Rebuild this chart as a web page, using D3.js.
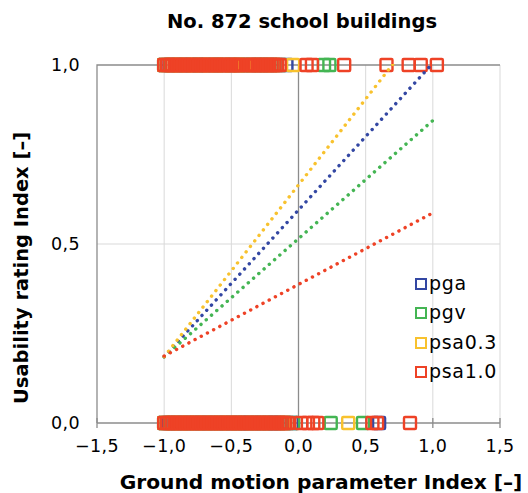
<!DOCTYPE html>
<html>
<head>
<meta charset="utf-8">
<script src="https://cdn.jsdelivr.net/npm/d3@7"></script>
<style>
  html, body { margin: 0; padding: 0; background: #fff; }
  svg { display: block; font-family: "DejaVu Sans", sans-serif; }
</style>
</head>
<body>
<svg id="chart" width="528" height="493"></svg>
<script>
// ---- data ----
const seriesNames = ["pga", "pgv", "psa0.3", "psa1.0"];
const seriesColors = ["#3347a3", "#44b553", "#f8c22e", "#ee4226"];

// x values of buildings with usability rating index = 1 (usable)
const pgaUsable = [-1.00,-0.96,-0.92,-0.87,-0.84,-0.80,-0.75,-0.72,-0.68,-0.63,-0.60,-0.56,-0.51,-0.48,-0.44,-0.40,-0.355,-0.31,-0.27,-0.22,-0.17,-0.09];
const pgvUsable = [-1.00,-0.95,-0.90,-0.85,-0.79,-0.75,-0.70,-0.64,-0.60,-0.55,-0.50,-0.44,-0.40,-0.35,-0.29,-0.25,-0.20,-0.135,0.19,0.23];
const psa03Usable = [-1.00,-0.94,-0.89,-0.83,-0.78,-0.72,-0.67,-0.61,-0.56,-0.50,-0.45,-0.40,-0.33,-0.25,-0.18,-0.04];
const psa10Usable = [-1.00,-0.98,-0.96,-0.94,-0.92,-0.90,-0.88,-0.86,-0.84,-0.82,-0.80,-0.78,-0.76,-0.74,-0.72,-0.70,-0.68,-0.66,-0.64,-0.62,-0.60,-0.58,-0.56,-0.54,-0.52,-0.50,-0.48,-0.46,-0.44,-0.42,-0.38,-0.36,-0.34,-0.32,-0.30,-0.28,-0.26,-0.24,-0.22,-0.20,-0.18,-0.16,-0.14,0.06,0.10,0.34,0.655,0.82,0.91,1.03];

// x values of buildings with usability rating index = 0 (not usable)
const pgaUnusable = [-1.00,-0.97,-0.93,-0.89,-0.85,-0.81,-0.77,-0.73,-0.69,-0.65,-0.61,-0.57,-0.53,-0.49,-0.45,-0.41,-0.37,-0.33,-0.29,-0.25,-0.21,-0.17,-0.13,-0.05,0.60];
const pgvUnusable = [-1.00,-0.95,-0.91,-0.86,-0.82,-0.77,-0.73,-0.68,-0.64,-0.59,-0.55,-0.50,-0.46,-0.41,-0.37,-0.32,-0.28,-0.23,-0.19,-0.14,-0.10,-0.04,0.24,0.48];
const psa03Unusable = [-1.00,-0.94,-0.88,-0.82,-0.76,-0.70,-0.64,-0.58,-0.52,-0.45,-0.35,-0.26,-0.11,0.37];
const psa10Unusable = [-1.00,-0.98,-0.96,-0.94,-0.92,-0.90,-0.88,-0.86,-0.84,-0.82,-0.80,-0.78,-0.76,-0.74,-0.72,-0.70,-0.68,-0.66,-0.64,-0.62,-0.60,-0.58,-0.56,-0.54,-0.52,-0.50,-0.48,-0.46,-0.44,-0.42,-0.40,-0.38,-0.36,-0.34,-0.32,-0.30,-0.28,-0.26,-0.24,-0.22,-0.20,-0.18,-0.16,-0.14,-0.12,-0.10,-0.08,0.02,0.07,0.11,0.14,0.55,0.585,0.83];

// linear trendlines (index = intercept + slope * x), drawn over x in [-1, 1]
const trendIntercepts = [0.595, 0.515, 0.665, 0.387];
const trendSlopes = [0.41, 0.33, 0.48, 0.20];
const trendRange = [-1.0, 1.0];

const xTicks = [-1.5, -1.0, -0.5, 0.0, 0.5, 1.0, 1.5];
const yTicks = [0.0, 0.5, 1.0];
const titleText = "No. 872 school buildings";
const xTitle = "Ground motion parameter Index [–]";
const yTitle = "Usability rating Index [–]";

// ---- chart ----
const usable = [pgaUsable, pgvUsable, psa03Usable, psa10Usable];
const unusable = [pgaUnusable, pgvUnusable, psa03Unusable, psa10Unusable];

const svg = d3.select("#chart");
const L = 97, R = 500, T = 65, B = 423;
const x = d3.scaleLinear().domain([-1.5, 1.5]).range([L, R]);
const y = d3.scaleLinear().domain([0, 1]).range([B, T]);
const fmt = v => d3.format(".1f")(v).replace(".", ",").replace("-", "–");

// gridlines
svg.append("g").selectAll("line").data(xTicks.filter(v => v !== 0 && v !== -1.5))
  .join("line")
  .attr("x1", d => x(d)).attr("x2", d => x(d))
  .attr("y1", T).attr("y2", B)
  .attr("stroke", "#d9d9d9").attr("stroke-width", 1);
svg.append("g").selectAll("line").data(yTicks.filter(v => v === 0.5))
  .join("line")
  .attr("x1", L).attr("x2", R)
  .attr("y1", d => y(d)).attr("y2", d => y(d))
  .attr("stroke", "#d9d9d9").attr("stroke-width", 1);

// frame: left & top
svg.append("path")
  .attr("d", `M${L},${B} L${L},${y(1)} L${R},${y(1)}`)
  .attr("fill", "none").attr("stroke", "#8c8c8c").attr("stroke-width", 1.3);

// vertical axis at x=0
svg.append("line")
  .attr("x1", x(0)).attr("x2", x(0)).attr("y1", T).attr("y2", B)
  .attr("stroke", "#8c8c8c").attr("stroke-width", 1.3);

// horizontal axis at y=0 with crossing ticks
const xAxisG = svg.append("g");
xAxisG.append("line").attr("x1", L).attr("x2", R).attr("y1", y(0)).attr("y2", y(0))
  .attr("stroke", "#8c8c8c").attr("stroke-width", 1.3);
xAxisG.selectAll("line.tick").data(xTicks).join("line").attr("class", "tick")
  .attr("x1", d => x(d)).attr("x2", d => x(d))
  .attr("y1", y(0) - 5).attr("y2", y(0) + 5)
  .attr("stroke", "#8c8c8c").attr("stroke-width", 1.3);

// tick labels
svg.append("g").selectAll("text").data(xTicks).join("text")
  .attr("x", d => x(d)).attr("y", 452)
  .attr("text-anchor", "middle")
  .attr("font-size", 17.5).attr("letter-spacing", 0.4).attr("fill", "#000")
  .text(fmt);
svg.append("g").selectAll("text").data(yTicks).join("text")
  .attr("x", 80).attr("y", d => y(d) + 6)
  .attr("text-anchor", "end")
  .attr("font-size", 17.5).attr("letter-spacing", 0.4).attr("fill", "#000")
  .text(fmt);

// markers
const ms = 12;
seriesNames.forEach((name, i) => {
  const g = svg.append("g").attr("class", "series-" + i);
  const pts = usable[i].map(v => ({x: v, y: 1})).concat(unusable[i].map(v => ({x: v, y: 0})));
  g.selectAll("rect").data(pts).join("rect")
    .attr("x", d => x(d.x) - ms / 2).attr("y", d => y(d.y) - ms / 2)
    .attr("width", ms).attr("height", ms)
    .attr("rx", 1)
    .attr("fill", "none")
    .attr("stroke", seriesColors[i]).attr("stroke-width", 2.4);
});

// trendlines (dotted)
svg.append("clipPath").attr("id", "clip").append("rect")
  .attr("x", L).attr("y", T - 1).attr("width", R - L).attr("height", B - T + 1);
const line = d3.line().x(d => x(d[0])).y(d => y(d[1]));
seriesNames.forEach((name, i) => {
  const pts = trendRange.map(v => [v, trendIntercepts[i] + trendSlopes[i] * v]);
  svg.append("path")
    .attr("clip-path", "url(#clip)")
    .attr("d", line(pts))
    .attr("fill", "none")
    .attr("stroke", seriesColors[i])
    .attr("stroke-width", 3.4)
    .attr("stroke-linecap", "round")
    .attr("stroke-dasharray", "0.1,6.9");
});

// legend
const lg = svg.append("g");
const legY = [284, 313, 343, 372];
seriesNames.forEach((name, i) => {
  lg.append("rect")
    .attr("x", 416).attr("y", legY[i] - 5).attr("width", 10).attr("height", 10)
    .attr("fill", "#fff").attr("stroke", seriesColors[i]).attr("stroke-width", 2);
  lg.append("text")
    .attr("x", 429).attr("y", legY[i] + 6)
    .attr("font-size", 19).attr("letter-spacing", 0.7).attr("fill", "#000")
    .text(name);
});

// titles
svg.append("text").attr("x", 302).attr("y", 28)
  .attr("text-anchor", "middle").attr("font-size", 19.5).attr("font-weight", "bold")
  .text(titleText);
svg.append("text").attr("x", 321).attr("y", 489)
  .attr("text-anchor", "middle").attr("font-size", 20.2).attr("font-weight", "bold")
  .text(xTitle);
svg.append("text")
  .attr("transform", `translate(28,${(T + B) / 2 + 24}) rotate(-90)`)
  .attr("text-anchor", "middle").attr("font-size", 19.5).attr("font-weight", "bold")
  .text(yTitle);
</script>
</body>
</html>
